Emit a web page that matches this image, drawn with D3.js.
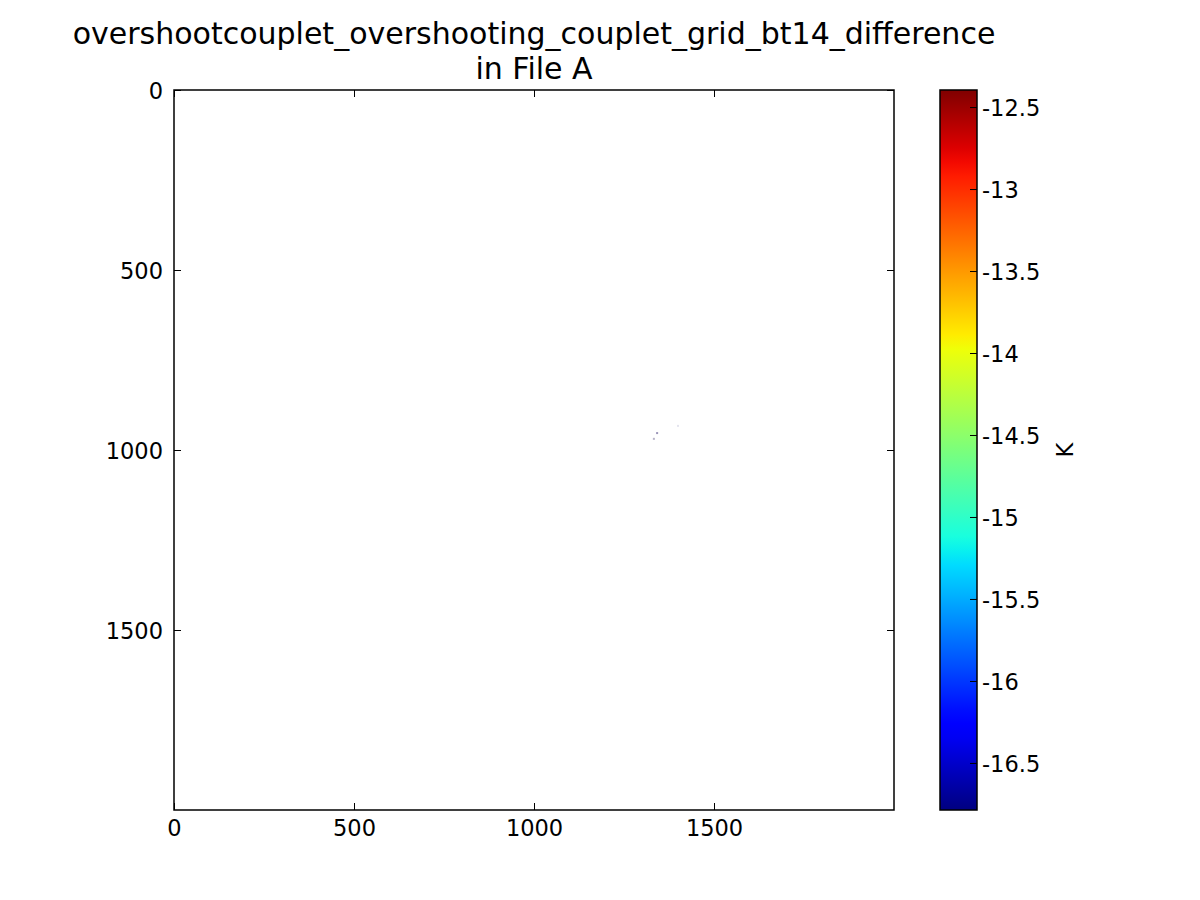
<!DOCTYPE html>
<html><head><meta charset="utf-8">
<script src="https://cdn.jsdelivr.net/npm/d3@7"></script>
<style>body{margin:0;background:#fff;} text{font-family:"DejaVu Sans",sans-serif;fill:#000;}</style>
</head><body><svg id="c" width="1200" height="900"></svg>
<script>
const titleLines = ["overshootcouplet_overshooting_couplet_grid_bt14_difference", "in File A"];
const xTicks = [0, 500, 1000, 1500];
const yTicks = [0, 500, 1000, 1500];
const xDomain = [0, 2000];
const yDomain = [0, 2000];
const cbDomain = [-16.787, -12.396];
const cbTicks = [-16.5, -16, -15.5, -15, -14.5, -14, -13.5, -13, -12.5];
const cbLabel = "K";
// sparse faint pixels in the field
const ptX = [1342, 1333, 1400];
const ptY = [953, 969, 933];
const ptColor = ["#9a94b8", "#b8b4c8", "#e4e4ee"];

const svg = d3.select("#c");
const L = 174, R = 894, T = 90, B = 810;
const x = d3.scaleLinear().domain(xDomain).range([L, R]);
const y = d3.scaleLinear().domain(yDomain).range([T, B]);
const fs = 22.5, tfs = 30, tl = 7;

svg.append("rect").attr("x",0).attr("y",0).attr("width",1200).attr("height",900).attr("fill","#fff");

// points
svg.selectAll("rect.pt").data(ptX).enter().append("rect").attr("class","pt")
  .attr("x",(d,i)=>x(d)-1).attr("y",(d,i)=>y(ptY[i])-1).attr("width",2).attr("height",2)
  .attr("fill",(d,i)=>ptColor[i]);

// axes
const gx = svg.append("g").attr("transform",`translate(0,${B})`)
  .call(d3.axisBottom(x).tickValues(xTicks).tickSize(-tl).tickFormat(d3.format("d")));
const gxt = svg.append("g").attr("transform",`translate(0,${T})`)
  .call(d3.axisTop(x).tickValues(xTicks).tickSize(-tl).tickFormat(""));
const gy = svg.append("g").attr("transform",`translate(${L},0)`)
  .call(d3.axisLeft(y).tickValues(yTicks).tickSize(-tl).tickFormat(d3.format("d")));
const gyr = svg.append("g").attr("transform",`translate(${R},0)`)
  .call(d3.axisRight(y).tickValues(yTicks).tickSize(-tl).tickFormat(""));
[gx,gxt,gy,gyr].forEach(g=>{
  g.attr("font-size",null).attr("font-family",null);
  g.select(".domain").remove();
  g.selectAll("line").attr("stroke","#000").attr("stroke-width",1);
  g.selectAll("text").style("font-size",fs+"px").style("font-family","DejaVu Sans").attr("fill","#000");
});
gx.selectAll("text").attr("y",26).attr("dy",null);
gy.selectAll("text").attr("x",-11).attr("dy","0.36em");
svg.append("rect").attr("x",L).attr("y",T).attr("width",R-L).attr("height",B-T)
  .attr("fill","none").attr("stroke","#000").attr("stroke-width",1.5);

// title
svg.append("text").attr("x",(L+R)/2).attr("y",44).attr("text-anchor","middle").style("font-size",tfs+"px").text(titleLines[0]);
svg.append("text").attr("x",(L+R)/2).attr("y",79).attr("text-anchor","middle").style("font-size",tfs+"px").text(titleLines[1]);

// colorbar
function jet(t){
  const f=(pts)=>{for(let i=1;i<pts.length;i++){if(t<=pts[i][0]){const a=pts[i-1],b=pts[i];return a[1]+(b[1]-a[1])*(t-a[0])/(b[0]-a[0]);}}return pts[pts.length-1][1];};
  const r=f([[0,0],[0.35,0],[0.66,1],[0.89,1],[1,0.5]]);
  const g=f([[0,0],[0.125,0],[0.375,1],[0.64,1],[0.91,0],[1,0]]);
  const b=f([[0,0.5],[0.11,1],[0.34,1],[0.65,0],[1,0]]);
  return d3.rgb(r*255,g*255,b*255);
}
const CL=940, CR=977;
const cy = d3.scaleLinear().domain(cbDomain).range([B, T]);
const defs = svg.append("defs");
const grad = defs.append("linearGradient").attr("id","jet").attr("x1",0).attr("y1",1).attr("x2",0).attr("y2",0);
d3.range(0,1.0001,0.02).forEach(t=>grad.append("stop").attr("offset",t).attr("stop-color",jet(t)));
svg.append("rect").attr("x",CL).attr("y",T).attr("width",CR-CL).attr("height",B-T).attr("fill","url(#jet)");
const gc = svg.append("g").attr("transform",`translate(${CR},0)`)
  .call(d3.axisRight(cy).tickValues(cbTicks).tickSize(-tl).tickFormat(d=>String(d)));
gc.attr("font-size",null).attr("font-family",null);
gc.select(".domain").remove();
gc.selectAll("line").attr("stroke","#000");
gc.selectAll("text").style("font-size",fs+"px").style("font-family","DejaVu Sans").attr("fill","#000").attr("text-anchor","start").attr("x",5).attr("dy","0.36em");
svg.append("rect").attr("x",CL).attr("y",T).attr("width",CR-CL).attr("height",B-T)
  .attr("fill","none").attr("stroke","#000").attr("stroke-width",1.5);
svg.append("text").attr("transform",`translate(1073,${(T+B)/2}) rotate(-90)`).attr("text-anchor","middle").style("font-size",fs+"px").text(cbLabel);
</script></body></html>
